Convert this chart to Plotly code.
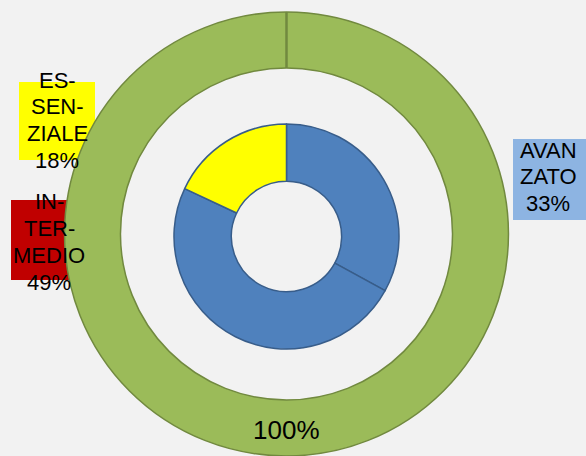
import plotly.graph_objects as go

# Level shares of the inner ring (percent), in clockwise order from 12 o'clock
levels = ["AVANZATO", "INTERMEDIO", "ESSENZIALE"]
level_labels = [["AVAN", "ZATO"], ["IN-", "TER-", "MEDIO"], ["ES-", "SEN-", "ZIALE"]]
level_values = [33, 49, 18]
level_colors = ["#4F81BD", "#4F81BD", "#FFFF00"]
box_colors = ["#8DB4E2", "#C00000", "#FFFF00"]

# Outer ring: the whole total
total_label = ["TOTALE"]
total_values = [100]

W, H = 586, 456
FONT = "Liberation Sans"

outer_dom_x = [0.1101, 0.8677]
outer_dom_y = [0.0, 0.9737]
outer_hole = 0.748

inner_dom_x = [0.2969, 0.6809]
inner_dom_y = [0.2346, 0.7281]

fig = go.Figure()

fig.add_trace(go.Pie(
    labels=total_label,
    values=total_values,
    domain=dict(x=outer_dom_x, y=outer_dom_y),
    hole=outer_hole,
    sort=False,
    direction="clockwise",
    marker=dict(colors=["#9BBB59"], line=dict(color="#71893F", width=1.5)),
    textinfo="none",
    showlegend=False,
    hoverinfo="label+value",
))

fig.add_trace(go.Pie(
    labels=levels,
    values=level_values,
    domain=dict(x=inner_dom_x, y=inner_dom_y),
    hole=0.49,
    sort=False,
    direction="clockwise",
    marker=dict(colors=level_colors, line=dict(color="#385D8A", width=1.5)),
    textinfo="none",
    showlegend=False,
    hoverinfo="label+value",
))

# Seam of the outer ring at 12 o'clock
cx = sum(outer_dom_x) / 2
cy = sum(outer_dom_y) / 2
r_frac = (outer_dom_y[1] - outer_dom_y[0]) / 2
fig.add_shape(type="line", xref="paper", yref="paper",
              x0=cx, x1=cx, y0=cy + r_frac, y1=cy + r_frac * outer_hole,
              line=dict(color="#71893F", width=2.5))

# Total value label, sitting in the bottom of the outer ring
fig.add_annotation(xref="paper", yref="paper", x=cx, y=1 - 430 / H,
                   text=f"{total_values[0]}%", showarrow=False,
                   xanchor="center", yanchor="middle",
                   font=dict(family=FONT, size=26, color="black"))

# Label boxes (paper pixels: left, top, right, bottom), text centre x,
# and baseline of the first text line
boxes = [(513, 139, 586, 220), (11, 200, 87, 280), (19, 82, 95, 160)]
text_x = [548, 49, 57]
first_baseline = [158, 210, 88]
LINE = 26.8

for lines, val, col, (l, t, r, b), tx, y0 in zip(level_labels, level_values,
                                                 box_colors, boxes, text_x,
                                                 first_baseline):
    fig.add_shape(type="rect", xref="paper", yref="paper",
                  x0=l / W, x1=r / W, y0=1 - b / H, y1=1 - t / H,
                  fillcolor=col, line=dict(width=0), layer="below")
    for i, line in enumerate(lines + [f"{val}%"]):
        base = y0 + i * LINE
        fig.add_annotation(xref="paper", yref="paper", x=tx / W,
                           y=1 - (base - 8) / H,
                           text=line, showarrow=False,
                           xanchor="center", yanchor="middle",
                           font=dict(family=FONT, size=22, color="black"))

fig.update_layout(
    width=W, height=H,
    margin=dict(l=0, r=0, t=0, b=0),
    paper_bgcolor="#F2F2F2",
    plot_bgcolor="#F2F2F2",
)

fig.write_html("out.html")
